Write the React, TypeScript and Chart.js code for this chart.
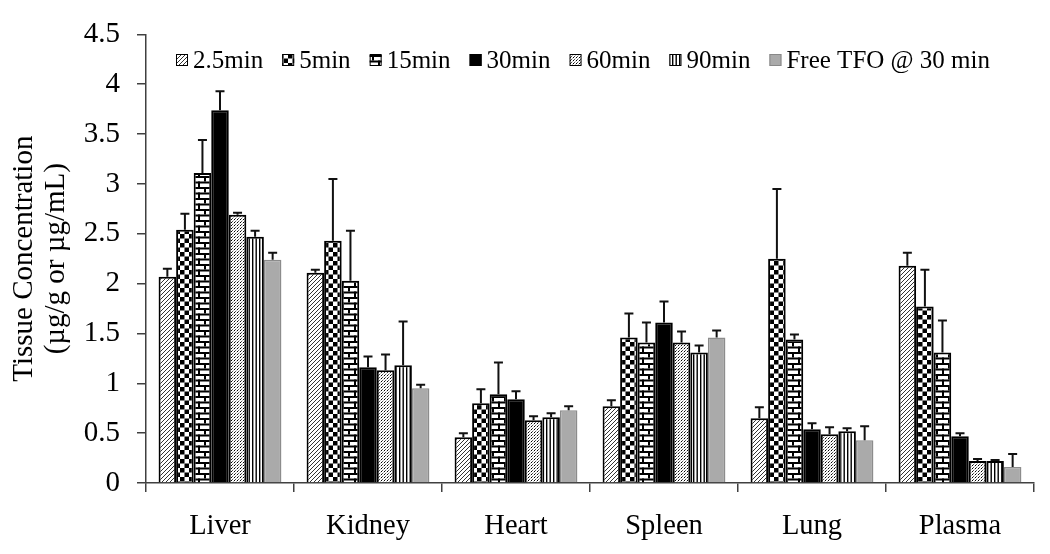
import React, { useEffect, useRef } from 'react';
import { Chart, registerables } from 'chart.js';

Chart.register(...registerables);

const categories = ['Liver', 'Kidney', 'Heart', 'Spleen', 'Lung', 'Plasma'];
const seriesLabels = ['2.5min', '5min', '15min', '30min', '60min', '90min', 'Free TFO @ 30 min'];

// mean values per time point (one entry per tissue)
const v2_5 = [2.07, 2.11, 0.46, 0.77, 0.65, 2.18];
const v5 = [2.54, 2.43, 0.80, 1.46, 2.25, 1.77];
const v15 = [3.11, 2.03, 0.89, 1.41, 1.44, 1.31];
const v30 = [3.74, 1.16, 0.84, 1.61, 0.54, 0.47];
const v60 = [2.69, 1.13, 0.63, 1.41, 0.49, 0.22];
const v90 = [2.47, 1.18, 0.66, 1.31, 0.52, 0.22];
const vFree = [2.24, 0.95, 0.73, 1.46, 0.43, 0.16];

// upward error (SD) per time point
const e2_5 = [0.08, 0.03, 0.04, 0.06, 0.11, 0.13];
const e5 = [0.16, 0.62, 0.14, 0.24, 0.70, 0.37];
const e15 = [0.33, 0.50, 0.32, 0.20, 0.05, 0.32];
const e30 = [0.19, 0.11, 0.08, 0.21, 0.06, 0.03];
const e60 = [0.02, 0.16, 0.04, 0.11, 0.07, 0.02];
const e90 = [0.06, 0.44, 0.04, 0.07, 0.03, 0.01];
const eFree = [0.07, 0.035, 0.04, 0.07, 0.14, 0.13];

const yMin = 0;
const yMax = 4.5;
const yStep = 0.5;
const yTitle = ['Tissue Concentration', '(\u00b5g/g or \u00b5g/mL)'];

const FONT = "'Liberation Serif', 'Times New Roman', serif";

function tile(w: number, h: number, draw: (c: CanvasRenderingContext2D) => void): CanvasPattern {
  const cv = document.createElement('canvas');
  cv.width = w;
  cv.height = h;
  const c = cv.getContext('2d')!;
  c.fillStyle = '#fff';
  c.fillRect(0, 0, w, h);
  draw(c);
  return document.createElement('canvas').getContext('2d')!.createPattern(cv, 'repeat')!;
}

function makePatterns(): (CanvasPattern | string)[] {
  const hatch = tile(4, 4, (c) => {
    c.strokeStyle = '#333';
    c.lineWidth = 1;
    c.beginPath();
    c.moveTo(-1, 5); c.lineTo(5, -1);
    c.moveTo(-3, 3); c.lineTo(3, -3);
    c.moveTo(1, 7); c.lineTo(7, 1);
    c.stroke();
  });
  const checker = tile(9, 9, (c) => {
    c.fillStyle = '#000';
    c.fillRect(0, 0, 4.5, 4.5);
    c.fillRect(4.5, 4.5, 4.5, 4.5);
  });
  const brick = tile(12, 11, (c) => {
    c.fillStyle = '#000';
    c.fillRect(0, 0, 12, 2);
    c.fillRect(0, 5.5, 12, 2);
    c.fillRect(0, 0, 2, 5.5);
    c.fillRect(6, 5.5, 2, 5.5);
  });
  const dots = tile(3, 3, (c) => {
    c.fillStyle = '#000';
    c.fillRect(0, 0, 1, 1);
    c.fillStyle = '#555';
    c.fillRect(1, 2, 1, 1);
    c.fillStyle = '#bbb';
    c.fillRect(2, 1, 1, 1);
  });
  const vlines = tile(7, 3, (c) => {
    c.fillStyle = '#000';
    c.fillRect(0, 0, 1.4, 3);
    c.fillRect(3.5, 0, 1.4, 3);
  });
  return [hatch, checker, brick, '#000000', dots, vlines, '#aaaaaa'];
}

const legendLeft = 176;
const legendRight = 990;

export default function App() {
  const ref = useRef<HTMLCanvasElement>(null);

  useEffect(() => {
    const values = [v2_5, v5, v15, v30, v60, v90, vFree];
    const errors = [e2_5, e5, e15, e30, e60, e90, eFree];
    const fills = makePatterns();

    const errorBars = {
      id: 'errorBars',
      afterDatasetsDraw(chart: any) {
        const ctx = chart.ctx;
        const ys = chart.scales.y;
        ctx.save();
        ctx.strokeStyle = '#111';
        ctx.lineWidth = 2;
        chart.data.datasets.forEach((ds: any, i: number) => {
          const meta = chart.getDatasetMeta(i);
          meta.data.forEach((bar: any, j: number) => {
            const v = ds.data[j];
            const top = ys.getPixelForValue(v + errors[i][j]);
            ctx.beginPath();
            ctx.moveTo(bar.x, bar.y);
            ctx.lineTo(bar.x, top);
            ctx.moveTo(bar.x - 4.5, top);
            ctx.lineTo(bar.x + 4.5, top);
            ctx.stroke();
          });
        });
        ctx.restore();
      },
    };

    const decorations = {
      id: 'decorations',
      afterDraw(chart: any) {
        const ctx = chart.ctx;
        ctx.save();
        // legend
        ctx.font = `25px ${FONT}`;
        ctx.textBaseline = 'middle';
        ctx.textAlign = 'left';
        const box = 12;
        const boxGap = 5;
        const widths = seriesLabels.map((l) => ctx.measureText(l).width);
        const used = widths.reduce((a, b) => a + b, 0) + seriesLabels.length * (box + boxGap);
        const gap = (legendRight - legendLeft - used) / (seriesLabels.length - 1);
        let x = legendLeft;
        const y = 60;
        seriesLabels.forEach((lab, i) => {
          ctx.fillStyle = fills[i] as any;
          ctx.fillRect(x, y - 6, box, box);
          ctx.strokeStyle = i === 6 ? '#888' : '#000';
          ctx.lineWidth = 1;
          ctx.strokeRect(x + 0.5, y - 5.5, box - 1, box - 1);
          ctx.fillStyle = '#000';
          ctx.fillText(lab, x + box + boxGap, y + 1);
          x += box + boxGap + widths[i] + gap;
        });
        // y title
        const ca = chart.chartArea;
        const cy = (ca.top + ca.bottom) / 2;
        ctx.font = `29px ${FONT}`;
        ctx.textAlign = 'center';
        ctx.textBaseline = 'middle';
        const xs = [24, 56];
        yTitle.forEach((t, k) => {
          ctx.save();
          ctx.translate(xs[k], cy);
          ctx.rotate(-Math.PI / 2);
          ctx.fillText(t, 0, 0);
          ctx.restore();
        });
        ctx.restore();
      },
    };

    const chart = new Chart(ref.current!, {
      type: 'bar',
      data: {
        labels: categories,
        datasets: seriesLabels.map((lab, i) => ({
          label: lab,
          data: values[i],
          backgroundColor: fills[i] as any,
          borderColor: i === 6 ? '#8c8c8c' : '#000',
          borderWidth: i === 6 ? 1.5 : 2,
          categoryPercentage: 0.83,
          barPercentage: 1.0,
        })),
      },
      options: {
        responsive: false,
        devicePixelRatio: 1,
        animation: false,
        layout: { padding: { top: 34, right: 16, left: 0, bottom: 0 } },
        plugins: {
          legend: { display: false },
          tooltip: { enabled: false },
        },
        scales: {
          x: {
            offset: true,
            afterFit: (s: any) => { s.height = 71; },
            grid: {
              offset: true,
              drawOnChartArea: false,
              drawTicks: true,
              tickLength: 9,
              color: '#404040',
              lineWidth: 1.5,
            },
            border: { display: true, color: '#404040', width: 1.5 },
            ticks: {
              color: '#000',
              padding: 17,
              font: { family: FONT, size: 28.5 },
              maxRotation: 0,
            },
          },
          y: {
            min: yMin,
            max: yMax,
            afterFit: (s: any) => { s.width = 146; },
            grid: {
              drawOnChartArea: false,
              drawTicks: true,
              tickLength: 9,
              color: '#404040',
              lineWidth: 1.5,
            },
            border: { display: true, color: '#404040', width: 1.5 },
            ticks: {
              stepSize: yStep,
              color: '#000',
              padding: 17,
              font: { family: FONT, size: 29 },
              callback: (v: any) => String(Number(v)),
            },
          },
        },
      },
      plugins: [errorBars, decorations],
    });
    return () => chart.destroy();
  }, []);

  return (
    <div style={{ position: 'absolute', left: 0, top: 0, width: 1050, height: 554, background: '#fff' }}>
      <canvas ref={ref} width={1050} height={554} />
    </div>
  );
}
